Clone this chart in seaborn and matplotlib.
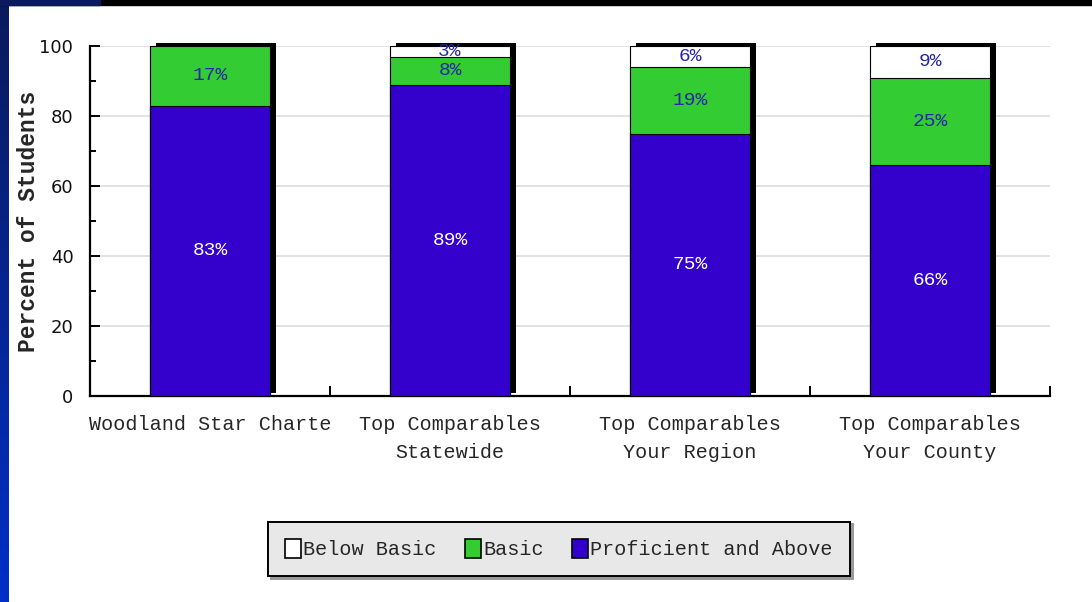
import numpy as np
import pandas as pd
import matplotlib
matplotlib.use("Agg")
import matplotlib.pyplot as plt
import matplotlib.patheffects as pe
from matplotlib.patches import Patch, Rectangle
import seaborn as sns

categories = ["Woodland Star Charte", "Top Comparables\nStatewide",
              "Top Comparables\nYour Region", "Top Comparables\nYour County"]
proficient = [83, 89, 75, 66]
basic = [17, 8, 19, 25]
below_basic = [0, 3, 6, 9]

blue = "#3300cc"
green = "#33cc33"
label_blue = "#2626a6"
mono = "Liberation Mono"

sns.set_style("white")
plt.rcParams["font.family"] = ["Liberation Mono", "DejaVu Sans"]

df = pd.DataFrame({"category": categories, "proficient": proficient,
                   "basic": basic, "below": below_basic})
df["basic_top"] = df["proficient"] + df["basic"]
df["total"] = df["basic_top"] + df["below"]

fig = plt.figure(figsize=(10.92, 6.02), dpi=100)
fig.patch.set_facecolor("white")

# slide-style frame: black top strip, blue gradient on the left
fig.patches.append(Rectangle((0, 1 - 5 / 602), 1, 5 / 602, transform=fig.transFigure,
                             color="black", zorder=0))
fig.patches.append(Rectangle((0, 1 - 5 / 602), 100 / 1092, 5 / 602, transform=fig.transFigure,
                             color="#0b1a5c", zorder=1))
side = fig.add_axes([0, 0, 9 / 1092, 1])
grad = np.linspace(0, 1, 256).reshape(-1, 1)
side.imshow(grad, aspect="auto", cmap=matplotlib.colors.LinearSegmentedColormap.from_list(
    "side", ["#0b1a5c", "#0030c8"]), origin="upper")
side.axis("off")

ax = fig.add_axes([90 / 1092, 1 - 396 / 602, 960 / 1092, 350 / 602])

sns.barplot(data=df, x="category", y="total", color="white", width=0.5,
            edgecolor="black", linewidth=0.8, saturation=1, ax=ax, zorder=3)
for p in ax.patches:
    p.set_clip_on(False)
    p.set_path_effects([pe.SimplePatchShadow(offset=(4.3, 2.2), shadow_rgbFace="black", alpha=1.0),
                        pe.Normal()])
sns.barplot(data=df, x="category", y="basic_top", color=green, width=0.5,
            edgecolor="black", linewidth=0.8, saturation=1, ax=ax, zorder=4)
sns.barplot(data=df, x="category", y="proficient", color=blue, width=0.5,
            edgecolor="black", linewidth=0.8, saturation=1, ax=ax, zorder=5)

# value labels in the middle of each segment
for i in range(len(categories)):
    p, b, w = proficient[i], basic[i], below_basic[i]
    ax.text(i, p / 2, f"{p}%", ha="center", va="center", color="white",
            fontsize=14, family=mono, zorder=6)
    if b > 0:
        ax.text(i, p + b / 2, f"{b}%", ha="center", va="center", color=label_blue,
                fontsize=14, family=mono, zorder=6)
    if w > 0:
        ax.text(i, p + b + w / 2, f"{w}%", ha="center", va="center", color=label_blue,
                fontsize=14, family=mono, zorder=6)

ax.set_xlim(-0.5, 3.5)
ax.set_ylim(0, 100)
ax.set_yticks(range(0, 101, 20))
ax.set_yticks(range(10, 100, 20), minor=True)
ax.set_xticks(np.arange(0.5, 4, 1), minor=True)
ax.yaxis.grid(True, color="#dddddd", linewidth=1.2, zorder=0)
ax.set_axisbelow(True)

ax.tick_params(axis="y", which="major", left=True, direction="in", length=7.5, width=1.4,
               color="black", pad=12, labelsize=13, labelcolor="#111111")
ax.tick_params(axis="y", which="minor", left=True, direction="in", length=4.5, width=1.4,
               color="black")
ax.tick_params(axis="x", which="major", bottom=False, length=0, pad=14, labelsize=14.5)
ax.tick_params(axis="x", which="minor", bottom=True, direction="in", length=7.5, width=1.4,
               color="black")
for t in ax.get_yticklabels():
    t.set_family("DejaVu Sans")
for t in ax.get_xticklabels():
    t.set_family(mono)
    t.set_linespacing(1.55)

for s in ["top", "right"]:
    ax.spines[s].set_visible(False)
for s in ["left", "bottom"]:
    ax.spines[s].set_color("black")
    ax.spines[s].set_linewidth(1.6)

ax.set_xlabel("")
ax.set_ylabel("Percent of Students", fontsize=16.5, fontweight="bold", family=mono)
ax.yaxis.set_label_coords(-0.052, 0.5)

handles = [Patch(facecolor="white", edgecolor="black", linewidth=1.2, label="Below Basic"),
           Patch(facecolor=green, edgecolor="black", linewidth=1.2, label="Basic"),
           Patch(facecolor=blue, edgecolor="black", linewidth=1.2, label="Proficient and Above")]
leg = fig.legend(handles=handles, loc="center", ncol=3,
                 bbox_to_anchor=(559 / 1092, 1 - 549 / 602),
                 prop={"family": mono, "size": 14.5}, frameon=True, fancybox=False,
                 shadow={"color": "#999999", "alpha": 1.0}, edgecolor="black",
                 facecolor="#e8e8e8", framealpha=1, handlelength=0.8, handleheight=1.1,
                 handletextpad=0.1, columnspacing=1.4, borderpad=0.85, borderaxespad=0)
leg.get_frame().set_linewidth(1.4)

fig.savefig("out.png", dpi=100)
